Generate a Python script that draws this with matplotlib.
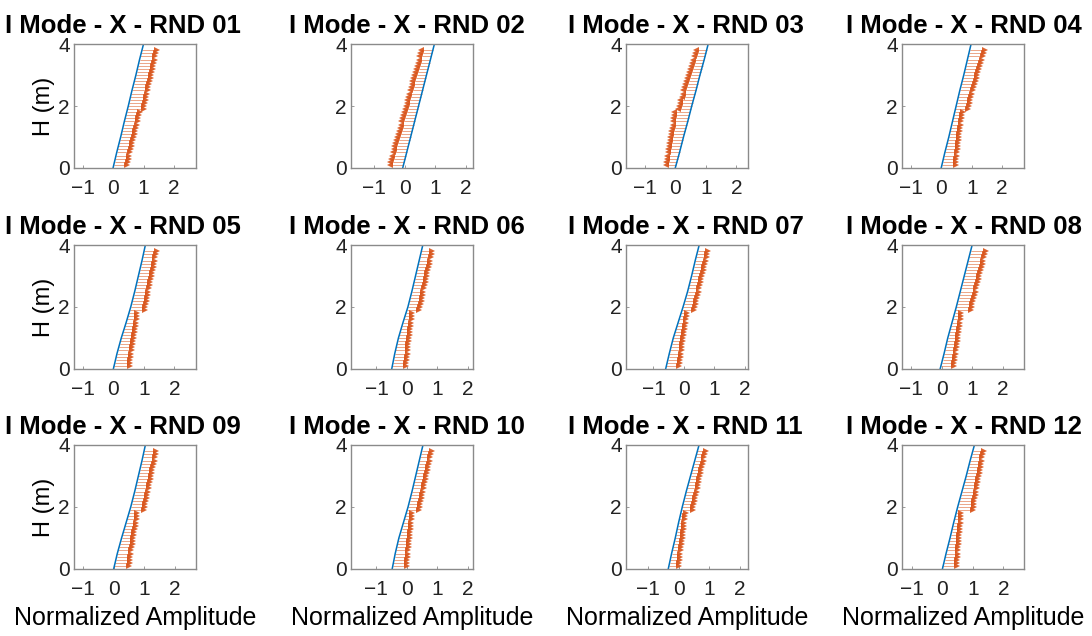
import matplotlib.pyplot as plt
import numpy as np

# === Data ===
titles = ["I Mode - X - RND %02d" % k for k in range(1, 13)]

# heights of the measured points (m)
heights = [0.1, 0.2, 0.3, 0.4, 0.5, 0.6, 0.7, 0.8, 0.9, 1.0,
           1.1, 1.2, 1.3, 1.4, 1.5, 1.6, 1.7, 1.8, 1.9, 2.0,
           2.1, 2.2, 2.3, 2.4, 2.5, 2.6, 2.7, 2.8, 2.9, 3.0,
           3.1, 3.2, 3.3, 3.4, 3.5, 3.6, 3.7, 3.8]

# heights where the reference mode shape is given
mode_heights = [0.0, 0.5, 1.0, 1.5, 2.0, 2.5, 3.0, 3.5, 4.0]

mode_01 = [0.00, 0.12, 0.25, 0.37, 0.50, 0.62, 0.75, 0.87, 1.00]
mode_02 = [-0.07, 0.06, 0.19, 0.32, 0.45, 0.58, 0.71, 0.84, 0.97]
mode_03 = [0.00, 0.14, 0.27, 0.41, 0.54, 0.68, 0.81, 0.95, 1.08]
mode_04 = [0.00, 0.12, 0.25, 0.37, 0.49, 0.61, 0.74, 0.86, 0.98]
mode_05 = [0.00, 0.12, 0.26, 0.42, 0.57, 0.70, 0.82, 0.94, 1.05]
mode_06 = [-0.50, -0.40, -0.28, -0.13, 0.03, 0.16, 0.28, 0.40, 0.52]
mode_07 = [-0.60, -0.48, -0.35, -0.19, -0.03, 0.12, 0.25, 0.37, 0.50]
mode_08 = [-0.05, 0.08, 0.20, 0.34, 0.48, 0.61, 0.74, 0.87, 1.00]
mode_09 = [0.00, 0.12, 0.26, 0.41, 0.56, 0.69, 0.81, 0.93, 1.04]
mode_10 = [-0.48, -0.38, -0.26, -0.11, 0.04, 0.17, 0.29, 0.41, 0.53]
mode_11 = [-0.35, -0.24, -0.12, -0.01, 0.11, 0.24, 0.38, 0.52, 0.66]
mode_12 = [0.00, 0.12, 0.25, 0.37, 0.50, 0.64, 0.78, 0.91, 1.05]

# identified amplitudes at each height
ident_01 = [0.46, 0.48, 0.51, 0.53, 0.56, 0.58, 0.61, 0.63, 0.66, 0.68,
            0.71, 0.73, 0.76, 0.78, 0.81, 0.83, 0.86, 0.88,
            1.00, 1.02, 1.05, 1.07, 1.09, 1.12, 1.14, 1.16, 1.19, 1.21,
            1.23, 1.25, 1.28, 1.30, 1.32, 1.35, 1.37, 1.39, 1.42, 1.44]
ident_02 = [-0.50, -0.47, -0.45, -0.42, -0.39, -0.36, -0.34, -0.31, -0.28, -0.25,
            -0.23, -0.20, -0.17, -0.14, -0.12, -0.09, -0.06, -0.03,
            0.00, 0.03, 0.06, 0.08, 0.11, 0.14, 0.17, 0.20, 0.22, 0.25,
            0.28, 0.31, 0.34, 0.36, 0.39, 0.42, 0.45, 0.48, 0.50, 0.53]
ident_03 = [-0.31, -0.29, -0.28, -0.26, -0.24, -0.23, -0.21, -0.19, -0.18, -0.16,
            -0.14, -0.13, -0.11, -0.09, -0.08, -0.06, -0.05, -0.03,
            0.08, 0.11, 0.14, 0.17, 0.21, 0.24, 0.27, 0.30, 0.33, 0.36,
            0.40, 0.43, 0.46, 0.49, 0.52, 0.55, 0.59, 0.62, 0.65, 0.68]
ident_04 = [0.47, 0.48, 0.50, 0.51, 0.52, 0.54, 0.55, 0.56, 0.58, 0.59,
            0.60, 0.62, 0.63, 0.64, 0.66, 0.67, 0.68, 0.70,
            0.87, 0.90, 0.93, 0.96, 0.99, 1.02, 1.05, 1.08, 1.11, 1.14,
            1.16, 1.19, 1.22, 1.25, 1.28, 1.31, 1.34, 1.37, 1.40, 1.43]
ident_05 = [0.53, 0.55, 0.56, 0.58, 0.59, 0.61, 0.62, 0.64, 0.65, 0.67,
            0.68, 0.70, 0.71, 0.73, 0.74, 0.76, 0.77, 0.79,
            1.03, 1.05, 1.07, 1.09, 1.11, 1.13, 1.15, 1.17, 1.19, 1.21,
            1.24, 1.26, 1.28, 1.30, 1.32, 1.34, 1.36, 1.38, 1.40, 1.42]
ident_06 = [-0.03, -0.02, -0.01, 0.01, 0.02, 0.03, 0.04, 0.05, 0.06, 0.08,
            0.09, 0.10, 0.11, 0.12, 0.13, 0.15, 0.16, 0.17,
            0.41, 0.43, 0.45, 0.48, 0.50, 0.52, 0.54, 0.56, 0.59, 0.61,
            0.63, 0.65, 0.67, 0.70, 0.72, 0.74, 0.76, 0.78, 0.81, 0.83]
ident_07 = [-0.15, -0.14, -0.12, -0.11, -0.09, -0.08, -0.06, -0.05, -0.03, -0.02,
            0.00, 0.01, 0.03, 0.04, 0.06, 0.07, 0.09, 0.10,
            0.33, 0.35, 0.38, 0.40, 0.43, 0.45, 0.48, 0.50, 0.52, 0.55,
            0.57, 0.60, 0.62, 0.65, 0.67, 0.70, 0.72, 0.75, 0.77, 0.80]
ident_08 = [0.40, 0.41, 0.43, 0.44, 0.46, 0.47, 0.49, 0.50, 0.52, 0.53,
            0.55, 0.56, 0.58, 0.59, 0.61, 0.62, 0.64, 0.65,
            0.95, 0.98, 1.00, 1.03, 1.06, 1.08, 1.11, 1.13, 1.16, 1.19,
            1.21, 1.24, 1.27, 1.29, 1.32, 1.34, 1.37, 1.40, 1.42, 1.45]
ident_09 = [0.50, 0.52, 0.53, 0.55, 0.57, 0.58, 0.60, 0.62, 0.63, 0.65,
            0.67, 0.68, 0.70, 0.72, 0.73, 0.75, 0.77, 0.78,
            1.00, 1.02, 1.04, 1.06, 1.08, 1.10, 1.13, 1.15, 1.17, 1.19,
            1.21, 1.23, 1.25, 1.27, 1.29, 1.32, 1.34, 1.36, 1.38, 1.40]
ident_10 = [0.00, 0.01, 0.02, 0.03, 0.04, 0.05, 0.06, 0.07, 0.08, 0.10,
            0.11, 0.12, 0.13, 0.14, 0.15, 0.16, 0.17, 0.18,
            0.40, 0.42, 0.44, 0.46, 0.49, 0.51, 0.53, 0.55, 0.57, 0.59,
            0.62, 0.64, 0.66, 0.68, 0.70, 0.73, 0.75, 0.77, 0.79, 0.82]
ident_11 = [0.00, 0.01, 0.03, 0.04, 0.05, 0.06, 0.08, 0.09, 0.10, 0.12,
            0.13, 0.14, 0.16, 0.17, 0.18, 0.19, 0.21, 0.22,
            0.45, 0.47, 0.49, 0.52, 0.54, 0.56, 0.58, 0.61, 0.63, 0.65,
            0.67, 0.70, 0.72, 0.74, 0.76, 0.79, 0.81, 0.83, 0.85, 0.88]
ident_12 = [0.47, 0.48, 0.49, 0.50, 0.51, 0.51, 0.52, 0.53, 0.54, 0.55,
            0.56, 0.57, 0.58, 0.59, 0.60, 0.60, 0.61, 0.62,
            1.00, 1.02, 1.04, 1.05, 1.07, 1.09, 1.11, 1.13, 1.15, 1.17,
            1.18, 1.20, 1.22, 1.24, 1.26, 1.28, 1.29, 1.31, 1.33, 1.35]

modes = [mode_01, mode_02, mode_03, mode_04, mode_05, mode_06,
         mode_07, mode_08, mode_09, mode_10, mode_11, mode_12]
idents = [ident_01, ident_02, ident_03, ident_04, ident_05, ident_06,
          ident_07, ident_08, ident_09, ident_10, ident_11, ident_12]

# === Style ===
plt.rcParams['font.family'] = ['Liberation Sans', 'DejaVu Sans']
BLUE = '#0072BD'
ORANGE = '#D95319'
FRAME = '#8a8a8a'

W, H = 1092, 636
fig = plt.figure(figsize=(W / 100, H / 100), dpi=100)

col_left = [74, 351, 626, 902]   # px
row_top = [44, 245, 445]         # px
ax_w, ax_h = 122, 124
title_x = [0.40, 0.46, 0.49, 0.51]  # title centre, axes fraction

for i in range(12):
    r, c = divmod(i, 4)
    ax = fig.add_axes([col_left[c] / W, 1 - (row_top[r] + ax_h) / H,
                       ax_w / W, ax_h / H])
    mode = np.array(modes[i])
    ident = np.array(idents[i])
    h = np.array(heights)

    # connecting lines from the reference shape to the identified points
    base = np.interp(h, mode_heights, mode)
    ax.hlines(h, base, ident, color=ORANGE, lw=0.6, alpha=0.6)
    head = '>' if np.mean(ident - base) > 0 else '<'
    ax.plot(ident, h, ls='none', marker=head, ms=4.0, color=ORANGE,
            markeredgewidth=0, alpha=0.9)
    ax.plot(mode, mode_heights, color=BLUE, lw=1.1)

    # equal-ish aspect centred on the data
    lo = min(mode.min(), ident.min())
    hi = max(mode.max(), ident.max())
    mid = (lo + hi) / 2
    ax.set_xlim(mid - 2.0, mid + 2.0)
    ax.set_ylim(0, 4)
    ax.set_xticks([-1, 0, 1, 2])
    ax.set_yticks([0, 2, 4])
    ax.set_xticklabels(['\u22121', '0', '1', '2'])
    ax.tick_params(direction='in', length=2, width=0.6, color=FRAME,
                   labelsize=15, labelcolor='#222222')
    ax.tick_params(axis='x', pad=8)
    ax.tick_params(axis='y', pad=3)
    for s in ax.spines.values():
        s.set_color(FRAME)
        s.set_linewidth(1.0)

    ax.set_title(titles[i], fontsize=18.5, fontweight='bold', pad=8,
                 x=title_x[c])
    if c == 0:
        ax.set_ylabel('H (m)', fontsize=17, labelpad=2)
    if r == 2:
        ax.set_xlabel('Normalized Amplitude', fontsize=18, labelpad=5)

plt.savefig('out.png', dpi=100)
